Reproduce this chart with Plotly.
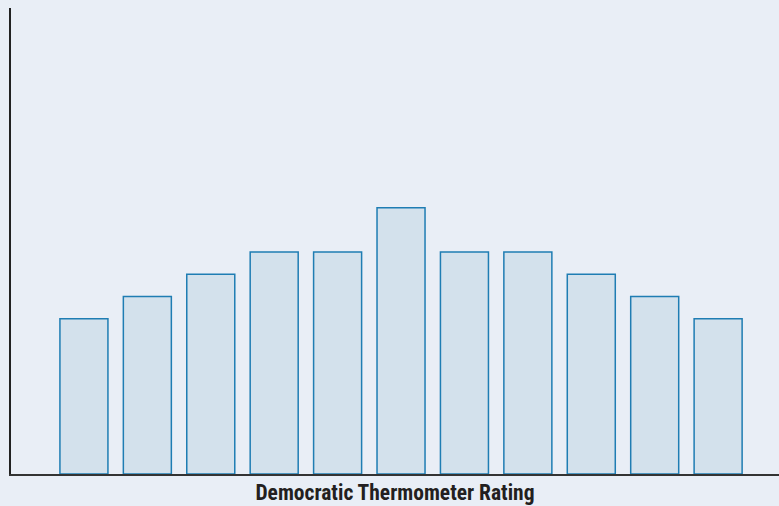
import plotly.graph_objects as go

categories = list(range(11))
values = [7, 8, 9, 10, 10, 12, 10, 10, 9, 8, 7]
x_title = "Democratic Thermometer Rating"

fig = go.Figure(go.Bar(
    x=categories, y=values,
    marker=dict(color="#d3e1ec", line=dict(color="#1f7db3", width=1.5)),
    width=0.757,
))
fig.update_layout(
    width=779, height=506,
    margin=dict(l=11, r=0, t=8, b=32),
    paper_bgcolor="#e9eef6", plot_bgcolor="#e9eef6",
    showlegend=False,
)
fig.update_xaxes(range=[-1.15, 10.96], showticklabels=False, ticks="",
                 showgrid=False, zeroline=False, showline=True,
                 linecolor="#333333", linewidth=2,
                 title=dict(text="<b>" + x_title + "</b>", standoff=10,
                            font=dict(family="Liberation Sans Narrow, Roboto Condensed, Arial Narrow, sans-serif",
                                      size=21.5, color="#231f20")))
fig.update_yaxes(range=[0, 21], showticklabels=False, ticks="", showgrid=False,
                 zeroline=False, showline=True, linecolor="#222222", linewidth=2)
fig.write_html("out.html", config={"displayModeBar": False},
               post_script="document.body.style.margin='0';document.body.style.overflow='hidden';document.body.style.background='#e9eef6';")
